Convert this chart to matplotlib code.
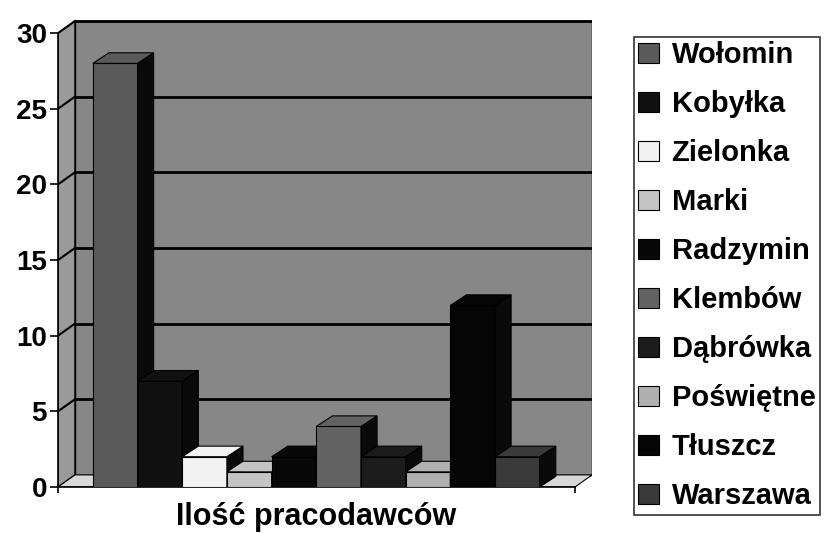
import matplotlib
matplotlib.use("Agg")
import matplotlib.pyplot as plt
from matplotlib.patches import Polygon, Rectangle, Patch

plt.rcParams['font.family'] = ['Liberation Sans', 'DejaVu Sans']

# data
towns = ['Wołomin', 'Kobyłka', 'Zielonka', 'Marki', 'Radzymin',
         'Klembów', 'Dąbrówka', 'Poświętne', 'Tłuszcz', 'Warszawa']
employers = [28, 7, 2, 1, 2, 4, 2, 1, 12, 2]
y_ticks = [0, 5, 10, 15, 20, 25, 30]
category = 'Ilość pracodawców'

# grey shades standing in for the scanned dither patterns
front_cols = ['#5a5a5a', '#111111', '#f2f2f2', '#c4c4c4', '#080808',
              '#636363', '#1c1c1c', '#b0b0b0', '#050505', '#3a3a3a']

fig = plt.figure(figsize=(8.32, 5.33), dpi=100)
ax = fig.add_axes([58 / 832, 46 / 533, 534 / 832, 469 / 533])

dx, dy = 0.38, 0.8       # depth of the walls
bdx, bdy = 0.36, 0.7     # depth of the bars
x_front = 11.57
x_start = 0.78
ymax = 30

# walls and floor
ax.add_patch(Polygon([(0, 0), (dx, dy), (dx, ymax + dy), (0, ymax)],
                     closed=True, fc='#9a9a9a', ec='black', lw=1, zorder=1))
ax.add_patch(Rectangle((dx, dy), x_front, ymax, fc='#878787', ec='black', lw=1, zorder=1))
ax.add_patch(Polygon([(0, 0), (x_front, 0), (x_front + dx, dy), (dx, dy)],
                     closed=True, fc='#d8d8d8', ec='black', lw=0.8, zorder=1))

# gridlines on back and side wall
for t in y_ticks[1:]:
    ax.plot([dx, x_front + dx], [t + dy, t + dy], color='black', lw=2, zorder=2)
    ax.plot([0, dx], [t, t + dy], color='black', lw=1.5, zorder=2)

# bars, left to right so the next bar hides the previous side face
for i, (v, c) in enumerate(zip(employers, front_cols)):
    x0 = x_start + i
    x1 = x0 + 1
    ax.bar(x0, v, width=1, align='edge', color=c, edgecolor='black', lw=0.8, zorder=3 + i)
    ax.add_patch(Polygon([(x1, 0), (x1 + bdx, bdy), (x1 + bdx, v + bdy), (x1, v)],
                         closed=True, fc='#0a0a0a', ec='black', lw=0.8, zorder=3 + i))
    ax.add_patch(Polygon([(x0, v), (x1, v), (x1 + bdx, v + bdy), (x0 + bdx, v + bdy)],
                         closed=True, fc=c, ec='black', lw=0.8, zorder=3 + i))

ax.set_xlim(0, x_front + dx)
ax.set_ylim(0, ymax + 1)
ax.set_yticks(y_ticks)
ax.set_yticklabels([str(t) for t in y_ticks], fontsize=20, fontweight='bold')
ax.set_xticks([0, x_front])
ax.set_xticklabels([])
ax.tick_params(axis='y', length=6, width=1.2, pad=2)
ax.tick_params(axis='x', length=4, width=1.2, direction='out')
for s in ['top', 'right']:
    ax.spines[s].set_visible(False)
ax.spines['left'].set_bounds(0, ymax)
ax.spines['bottom'].set_bounds(0, x_front)
ax.spines['left'].set_linewidth(1.2)
ax.spines['bottom'].set_linewidth(1.2)
ax.set_facecolor('none')

fig.text(316 / 832, 1 - 525 / 533, category, ha='center', va='baseline',
         fontsize=22, fontweight='bold')

handles = [Patch(facecolor=c, edgecolor='black', lw=0.8) for c in front_cols]
leg = fig.legend(handles, towns, loc='upper left', bbox_to_anchor=(634 / 832, 1 - 37 / 533),
                 prop={'size': 21, 'weight': 'bold'}, frameon=True, fancybox=False,
                 edgecolor='black', labelspacing=0.72, handlelength=0.69, handleheight=0.69,
                 handletextpad=0.45, borderpad=0.15, borderaxespad=0)
leg.get_frame().set_linewidth(1.2)

fig.savefig('out.png', dpi=100)
